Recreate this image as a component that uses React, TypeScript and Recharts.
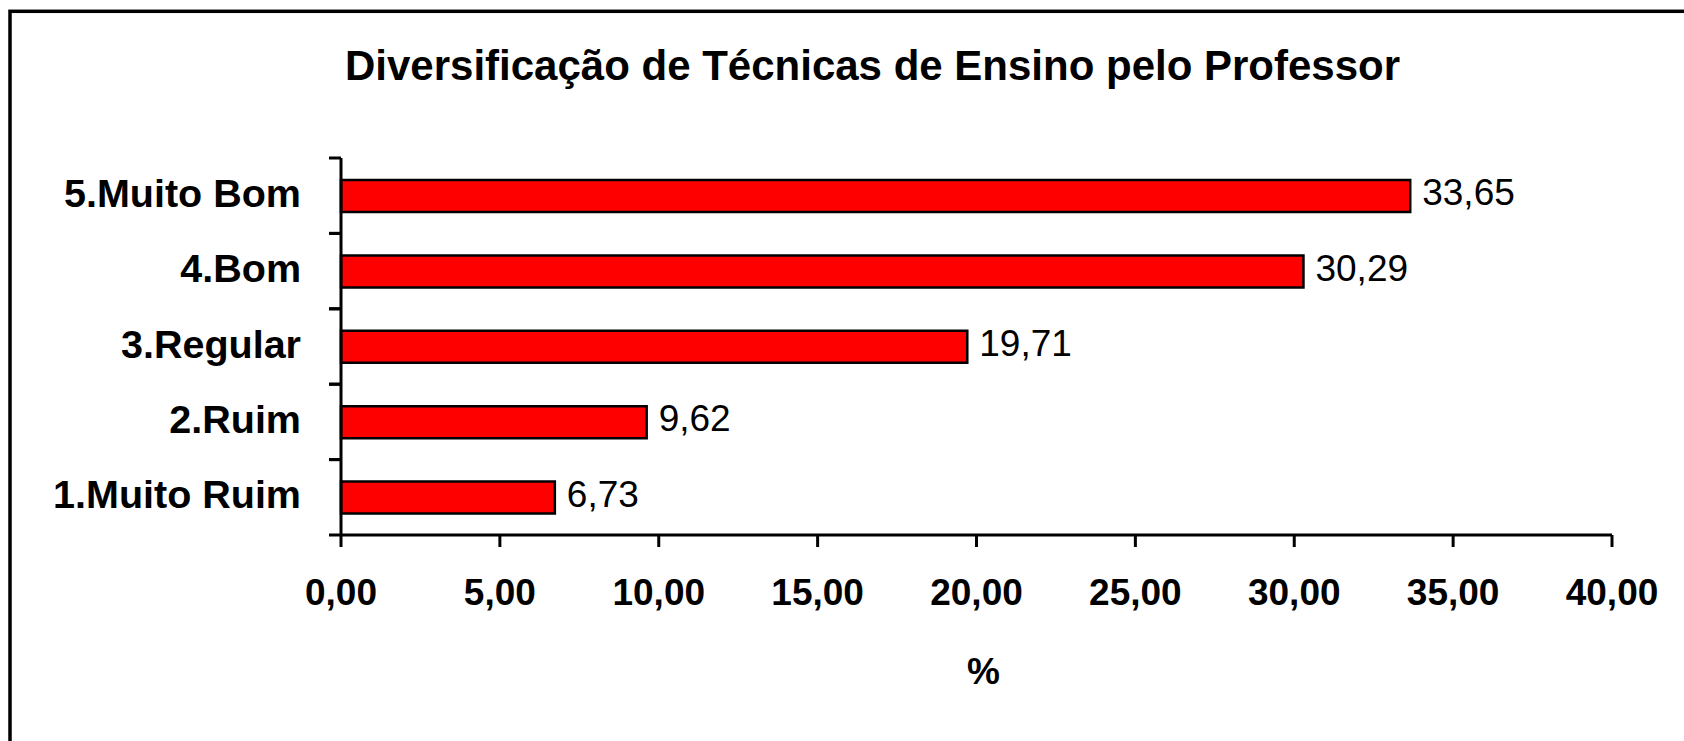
import React from 'react';
import { BarChart, Bar, XAxis, YAxis, LabelList, Label } from 'recharts';

const categories = ['5.Muito Bom', '4.Bom', '3.Regular', '2.Ruim', '1.Muito Ruim'];
const percentValues = [33.65, 30.29, 19.71, 9.62, 6.73];
const xTicks = [0, 5, 10, 15, 20, 25, 30, 35, 40];
const chartTitle = 'Diversificação de Técnicas de Ensino pelo Professor';
const xAxisTitle = '%';

const data = categories.map((c, i) => ({ category: c, value: percentValues[i] }));

const W = 1684;
const H = 741;
const PLOT_LEFT = 341;
const PLOT_TOP = 158;
const PLOT_RIGHT = 1612;
const PLOT_BOTTOM = 535;
const FONT = '"Liberation Sans", Arial, Helvetica, sans-serif';
const fmt = (v: any) => Number(v).toFixed(2).replace('.', ',');

const CategoryTick = (props: any) => {
  const { y, payload } = props;
  const half = payload && payload.offset ? payload.offset : (PLOT_BOTTOM - PLOT_TOP) / categories.length / 2;
  return (
    <g>
      <line x1={PLOT_LEFT - 12} x2={PLOT_LEFT} y1={y - half} y2={y - half} stroke="#000" strokeWidth={3} />
      <line x1={PLOT_LEFT - 12} x2={PLOT_LEFT} y1={y + half} y2={y + half} stroke="#000" strokeWidth={3} />
      <text x={PLOT_LEFT - 40} y={y + 11} textAnchor="end" fontFamily={FONT} fontWeight="bold" fontSize={39.5} fill="#000">
        {payload.value}
      </text>
    </g>
  );
};

const AxisTitle = (p: any) => {
  const vb = p.viewBox || { x: PLOT_LEFT, y: PLOT_BOTTOM, width: PLOT_RIGHT - PLOT_LEFT, height: H - PLOT_BOTTOM };
  return (
    <text x={vb.x + vb.width / 2 + 7} y={vb.y + 149} textAnchor="middle" fontFamily={FONT} fontWeight="bold" fontSize={37} fill="#000">
      {xAxisTitle}
    </text>
  );
};

export default function App() {
  return (
    <div style={{ position: 'absolute', left: 0, top: 0, width: W, height: H, background: '#fff', overflow: 'hidden' }}>
      <BarChart
        width={W}
        height={H}
        data={data}
        layout="vertical"
        margin={{ top: PLOT_TOP, right: W - PLOT_RIGHT, bottom: 0, left: 0 }}
      >
        <XAxis
          xAxisId="frame"
          orientation="top"
          type="number"
          domain={[0, 40]}
          tick={false}
          tickLine={false}
          height={0}
          axisLine={{ stroke: '#888', strokeWidth: 2 }}
        />
        <YAxis
          yAxisId="frame"
          orientation="right"
          type="number"
          domain={[0, 1]}
          tick={false}
          tickLine={false}
          width={0}
          axisLine={{ stroke: '#888', strokeWidth: 2 }}
        />
        <XAxis
          type="number"
          domain={[0, 40]}
          ticks={xTicks}
          interval={0}
          tickFormatter={fmt}
          height={H - PLOT_BOTTOM}
          tickSize={12}
          tickMargin={32}
          tickLine={{ stroke: '#000', strokeWidth: 3 }}
          axisLine={{ stroke: '#000', strokeWidth: 3 }}
          tick={{ fill: '#000', fontSize: 37, fontWeight: 'bold', fontFamily: FONT }}
        >
          <Label content={AxisTitle} />
        </XAxis>
        <YAxis
          type="category"
          dataKey="category"
          width={PLOT_LEFT}
          interval={0}
          tickLine={false}
          tick={<CategoryTick />}
          axisLine={{ stroke: '#000', strokeWidth: 3 }}
        />
        <Bar dataKey="value" fill="#FF0000" stroke="#000" strokeWidth={2.5} barSize={32} isAnimationActive={false}>
          <LabelList
            dataKey="value"
            position="right"
            offset={12}
            formatter={fmt}
            fill="#000"
            fontSize={37}
            fontFamily={FONT}
            dy={-4}
          />
        </Bar>
      </BarChart>
      <svg width={W} height={H} style={{ position: 'absolute', left: 0, top: 0, pointerEvents: 'none' }}>
        <rect x={10} y={11.3} width={W + 100} height={H + 100} fill="none" stroke="#000" strokeWidth={3.5} />
        <text x={345} y={80} fontFamily={FONT} fontWeight="bold" fontSize={42} fill="#000">
          {chartTitle}
        </text>
      </svg>
    </div>
  );
}
